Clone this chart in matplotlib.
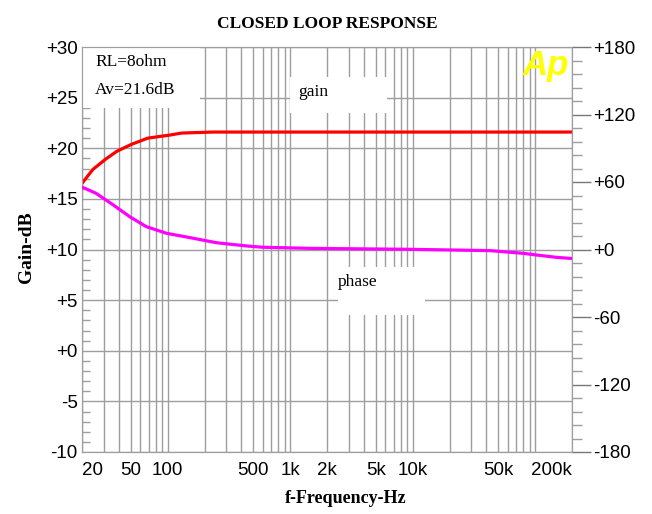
import numpy as np
import matplotlib
matplotlib.use("Agg")
import matplotlib.pyplot as plt
from matplotlib.patches import Rectangle
from matplotlib.ticker import FixedLocator, NullFormatter

# values
gain_freq = [20, 20.5, 24.5, 31, 38.5, 51, 69, 104, 130, 234, 1000, 10000, 100000, 200000]
gain_db = [16.5, 16.7, 17.9, 18.9, 19.7, 20.4, 21.0, 21.3, 21.5, 21.6, 21.6, 21.6, 21.6, 21.6]

phase_freq = [20, 26, 36, 49, 67, 98, 162, 251, 445, 600, 1460, 9000, 43000, 80000, 103000, 150000, 200000]
phase_deg = [55.5, 50, 39.6, 29.2, 20.3, 14.4, 10, 6, 3.1, 2, 1, 0.2, -1, -3.4, -4.9, -7, -8]

x_ticks = [20, 50, 100, 500, 1000, 2000, 5000, 10000, 50000, 200000]
x_labels = ["20", "50", "100", "500", "1k", "2k", "5k", "10k", "50k", "200k"]
left_ticks = [30, 25, 20, 15, 10, 5, 0, -5, -10]
left_labels = ["+30", "+25", "+20", "+15", "+10", "+5", "+0", "-5", "-10"]
right_ticks = [180, 120, 60, 0, -60, -120, -180]
right_labels = ["+180", "+120", "+60", "+0", "-60", "-120", "-180"]

grid_c = "#9e9e9e"
serif = "Liberation Serif"
sans = "Liberation Sans"

fig = plt.figure(figsize=(6.52, 5.14), dpi=100)
ax = fig.add_axes([82 / 652, 62 / 514, 490 / 652, 405 / 514])
ax.set_xscale("log")
ax.set_xlim(20, 200000)
ax.set_ylim(-10, 30)

# log grid lines (decades + 2..9)
grid_x = [m * 10 ** d for d in range(1, 6) for m in range(1, 10)]
grid_x = [g for g in grid_x if 20 <= g <= 200000]
for g in grid_x:
    ax.axvline(g, color=grid_c, lw=1.0, zorder=1)
for g in range(-10, 31, 5):
    ax.axhline(g, color=grid_c, lw=1.0, zorder=1)

for s in ax.spines.values():
    s.set_color(grid_c)

ax.set_xticks(x_ticks)
ax.set_xticklabels(x_labels, fontsize=13.5, family=sans)
ax.xaxis.set_minor_locator(FixedLocator([]))
ax.tick_params(axis="x", length=0, pad=7)
xl = ax.get_xticklabels()
xl[0].set_ha("left")
xl[-1].set_ha("right")

ax.set_yticks(left_ticks)
ax.set_yticklabels(left_labels, fontsize=13.5, family=sans)
ax.yaxis.set_minor_locator(FixedLocator(np.arange(-10, 31, 1)))
ax.yaxis.set_minor_formatter(NullFormatter())
ax.tick_params(axis="y", which="major", length=0, pad=3)
ax.tick_params(axis="y", which="minor", direction="in", length=6, color=grid_c, width=1)

# white boxes behind the labels
ax.add_patch(Rectangle((0, (452 - 108) / 405), 118 / 490, 61 / 405, transform=ax.transAxes,
                       facecolor="white", edgecolor="none", zorder=2))
ax.add_patch(Rectangle((208 / 490, (452 - 113) / 405), 97 / 490, 36 / 405, transform=ax.transAxes,
                       facecolor="white", edgecolor="none", zorder=2))
ax.add_patch(Rectangle((256 / 490, (452 - 315) / 405), 87 / 490, 48 / 405, transform=ax.transAxes,
                       facecolor="white", edgecolor="none", zorder=2))

ax.text(13 / 490, (452 - 62) / 405, "RL=8ohm", transform=ax.transAxes, fontsize=12.5,
        family=serif, va="center", ha="left", zorder=3)
ax.text(13 / 490, (452 - 90) / 405, "Av=21.6dB", transform=ax.transAxes, fontsize=12.5,
        family=serif, va="center", ha="left", zorder=3)
ax.text(216 / 490, (452 - 92) / 405, "gain", transform=ax.transAxes, fontsize=12.5,
        family=serif, va="center", ha="left", zorder=3)
ax.text(256 / 490, (452 - 282) / 405, "phase", transform=ax.transAxes, fontsize=12.5,
        family=serif, va="center", ha="left", zorder=3)
ax.text(441 / 490, (452 - 66) / 405, "Ap", transform=ax.transAxes, fontsize=25,
        family=sans, weight="bold", style="italic", color="#ffff00",
        va="center", ha="left", zorder=3)

ax.plot(gain_freq, gain_db, color="#ff0000", lw=2.3, zorder=4, solid_capstyle="butt")

ax2 = ax.twinx()
ax2.set_ylim(-180, 180)
ax2.set_yticks(right_ticks)
ax2.set_yticklabels(right_labels, fontsize=13.5, family=sans)
ax2.yaxis.set_minor_locator(FixedLocator(np.arange(-180, 181, 12)))
ax2.yaxis.set_minor_formatter(NullFormatter())
ax2.tick_params(axis="y", which="major", length=14, width=1, color="#777777", pad=1)
ax2.tick_params(axis="y", which="minor", length=7, width=1, color=grid_c)
for s in ax2.spines.values():
    s.set_color(grid_c)
ax2.plot(phase_freq, phase_deg, color="#ff00ff", lw=2.3, zorder=4, solid_capstyle="butt")

ax.set_title("CLOSED LOOP RESPONSE", fontsize=12.5, family=serif, weight="bold", pad=14)
ax.set_xlabel("f-Frequency-Hz", fontsize=13, family=serif, weight="bold")
ax.xaxis.set_label_coords((346 - 82) / 490, -38 / 405)
ax.set_ylabel("Gain-dB", fontsize=14, family=serif, weight="bold")
ax.yaxis.set_label_coords(-47 / 490, (452 - 247) / 405)

fig.savefig("out.png", dpi=100, facecolor="white")
